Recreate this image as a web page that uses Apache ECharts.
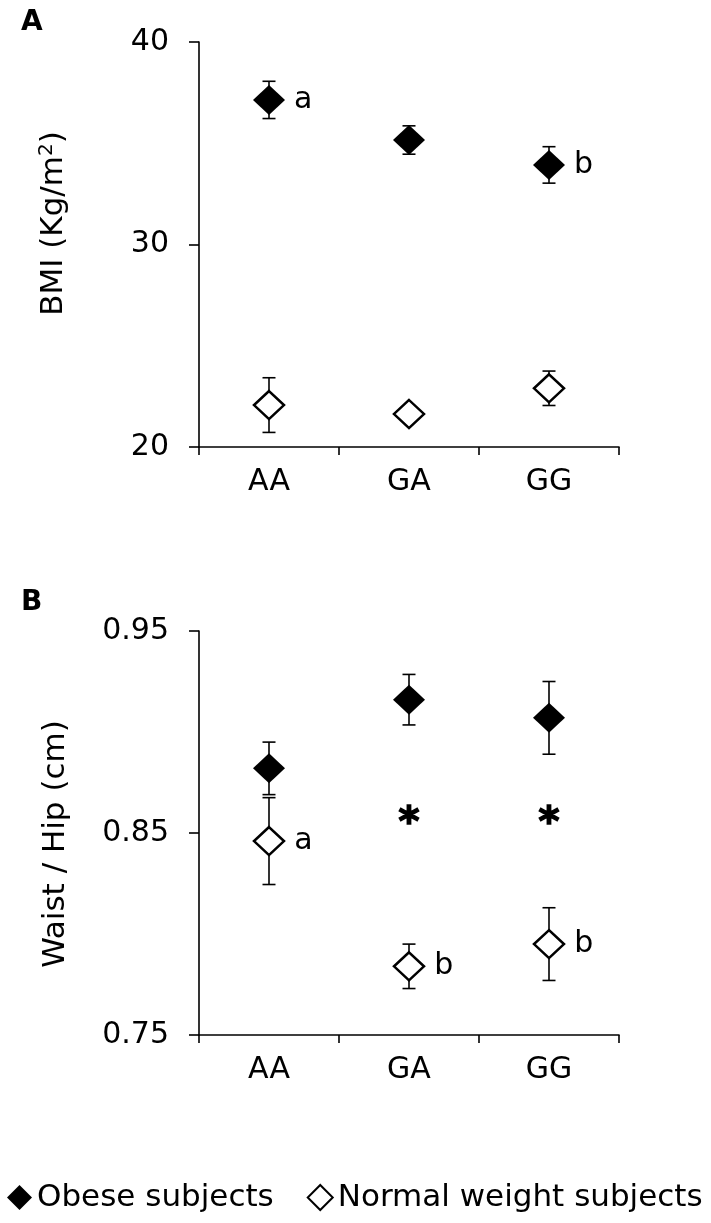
<!DOCTYPE html>
<html><head><meta charset="utf-8">
<script src="https://cdn.jsdelivr.net/npm/echarts@6/dist/echarts.min.js"></script>
<style>html,body{margin:0;padding:0;background:#fff}#c{width:711px;height:1223px}</style>
</head><body><div id="c"></div>
<script>
// ---- data ----
const genotypes = ['AA', 'GA', 'GG'];
const seriesNames = ['Obese subjects', 'Normal weight subjects'];

const bmiObese = [37.14, 35.16, 33.93];
const bmiObeseErr = [0.92, 0.70, 0.90];
const bmiNormal = [22.07, 21.63, 22.90];
const bmiNormalErr = [1.35, 0.35, 0.85];
const bmiObeseLetters = ['a', '', 'b'];
const bmiNormalLetters = ['', '', ''];

const whrObese = [0.882, 0.916, 0.907];
const whrObeseErr = [0.013, 0.0125, 0.018];
const whrNormal = [0.846, 0.784, 0.795];
const whrNormalErr = [0.0215, 0.011, 0.018];
const whrObeseLetters = ['', '', ''];
const whrNormalLetters = ['a', 'b', 'b'];
const whrStars = ['', '*', '*'];
const whrStarLevel = 0.854;

const bmiAxis = { min: 20, max: 40, interval: 10 };
const whrAxis = { min: 0.75, max: 0.95, interval: 0.1 };

// ---- styling ----
const FONT = 'DejaVu Sans';
const BLACK = '#000';

function errBars(idx, centers, errs) {
  return {
    type: 'custom', xAxisIndex: idx, yAxisIndex: idx, z: 1, silent: true,
    data: centers.map((v, i) => [i, v - errs[i], v + errs[i]]),
    renderItem(params, api) {
      const x = api.value(0);
      const lo = api.coord([x, api.value(1)]);
      const hi = api.coord([x, api.value(2)]);
      const w = 6.5;
      const st = { stroke: BLACK, lineWidth: 1.6, fill: null };
      return { type: 'group', children: [
        { type: 'line', shape: { x1: lo[0], y1: lo[1], x2: hi[0], y2: hi[1] }, style: st },
        { type: 'line', shape: { x1: lo[0] - w, y1: lo[1], x2: lo[0] + w, y2: lo[1] }, style: st },
        { type: 'line', shape: { x1: hi[0] - w, y1: hi[1], x2: hi[0] + w, y2: hi[1] }, style: st }
      ]};
    }
  };
}

function points(idx, name, values, letters, filled) {
  return {
    type: 'scatter', name: name, xAxisIndex: idx, yAxisIndex: idx, z: 3,
    symbol: 'diamond',
    symbolSize: filled ? [32, 30] : [30, 28],
    itemStyle: filled ? { color: BLACK, borderColor: BLACK, borderWidth: 0, opacity: 1 }
                      : { color: '#fff', borderColor: BLACK, borderWidth: 2.5, opacity: 1 },
    emphasis: { disabled: true },
    label: {
      show: true, position: 'right', distance: 9,
      formatter: p => letters[p.dataIndex],
      fontFamily: FONT, fontSize: 30, color: BLACK
    },
    data: values
  };
}

function xAx(idx) {
  return {
    type: 'category', gridIndex: idx, data: genotypes,
    axisLine: { show: true, lineStyle: { color: BLACK, width: 1.6 } },
    axisTick: { show: true, length: 8, lineStyle: { color: BLACK, width: 1.6 } },
    axisLabel: { color: BLACK, fontFamily: FONT, fontSize: 30, margin: 20 },
    splitLine: { show: false }
  };
}

function yAx(idx, ax, name, nameStyle, fmt) {
  return {
    type: 'value', gridIndex: idx, min: ax.min, max: ax.max, interval: ax.interval,
    axisLine: { show: true, lineStyle: { color: BLACK, width: 1.6 } },
    axisTick: { show: true, length: 10, lineStyle: { color: BLACK, width: 1.6 } },
    axisLabel: { color: BLACK, fontFamily: FONT, fontSize: 30, margin: 30, formatter: fmt },
    splitLine: { show: false },
    name: name, nameLocation: 'middle', nameRotate: 90, nameGap: 128,
    nameTextStyle: Object.assign({ color: BLACK, fontFamily: FONT, fontSize: 31 }, nameStyle)
  };
}

const chart = echarts.init(document.getElementById('c'), null, { renderer: 'canvas' });
chart.setOption({
  animation: false,
  backgroundColor: '#fff',
  title: [
    { text: 'A', left: 16, top: 4, textStyle: { fontFamily: FONT, fontWeight: 'bold', fontSize: 28, color: BLACK } },
    { text: 'B', left: 16, top: 584, textStyle: { fontFamily: FONT, fontWeight: 'bold', fontSize: 28, color: BLACK } }
  ],
  grid: [
    { left: 199, right: 92, top: 42, height: 405 },
    { left: 199, right: 92, top: 631, height: 404 }
  ],
  xAxis: [xAx(0), xAx(1)],
  yAxis: [
    yAx(0, bmiAxis, '{n|BMI (Kg/m}{s|2}{n|)}', {
      padding: [0, 0, 0, 42],
      rich: {
        n: { fontFamily: FONT, fontSize: 31, color: BLACK },
        s: { fontFamily: FONT, fontSize: 20, color: BLACK, padding: [0, 0, 14, 0] }
      }
    }, v => String(v)),
    yAx(1, whrAxis, 'Waist / Hip (cm)', { padding: [0, 22, 0, 0] }, v => v.toFixed(2))
  ],
  legend: {
    data: seriesNames, left: 7, top: 1182, width: 720, padding: 0,
    itemWidth: 25, itemHeight: 25, itemGap: 33,
    textStyle: { fontFamily: FONT, fontSize: 31, color: BLACK },
    selectedMode: false
  },
  series: [
    errBars(0, bmiObese, bmiObeseErr),
    errBars(0, bmiNormal, bmiNormalErr),
    points(0, seriesNames[0], bmiObese, bmiObeseLetters, true),
    points(0, seriesNames[1], bmiNormal, bmiNormalLetters, false),
    errBars(1, whrObese, whrObeseErr),
    errBars(1, whrNormal, whrNormalErr),
    points(1, seriesNames[0], whrObese, whrObeseLetters, true),
    points(1, seriesNames[1], whrNormal, whrNormalLetters, false),
    {
      type: 'scatter', xAxisIndex: 1, yAxisIndex: 1, symbolSize: 0, silent: true,
      itemStyle: { color: BLACK },
      emphasis: { disabled: true },
      data: whrStars.map(() => whrStarLevel),
      label: {
        show: true, position: 'inside',
        formatter: p => whrStars[p.dataIndex],
        fontFamily: FONT, fontWeight: 'bold', fontSize: 40, color: BLACK,
        textBorderColor: BLACK, textBorderWidth: 1.5, opacity: 1
      }
    }
  ]
});
</script>
</body></html>
